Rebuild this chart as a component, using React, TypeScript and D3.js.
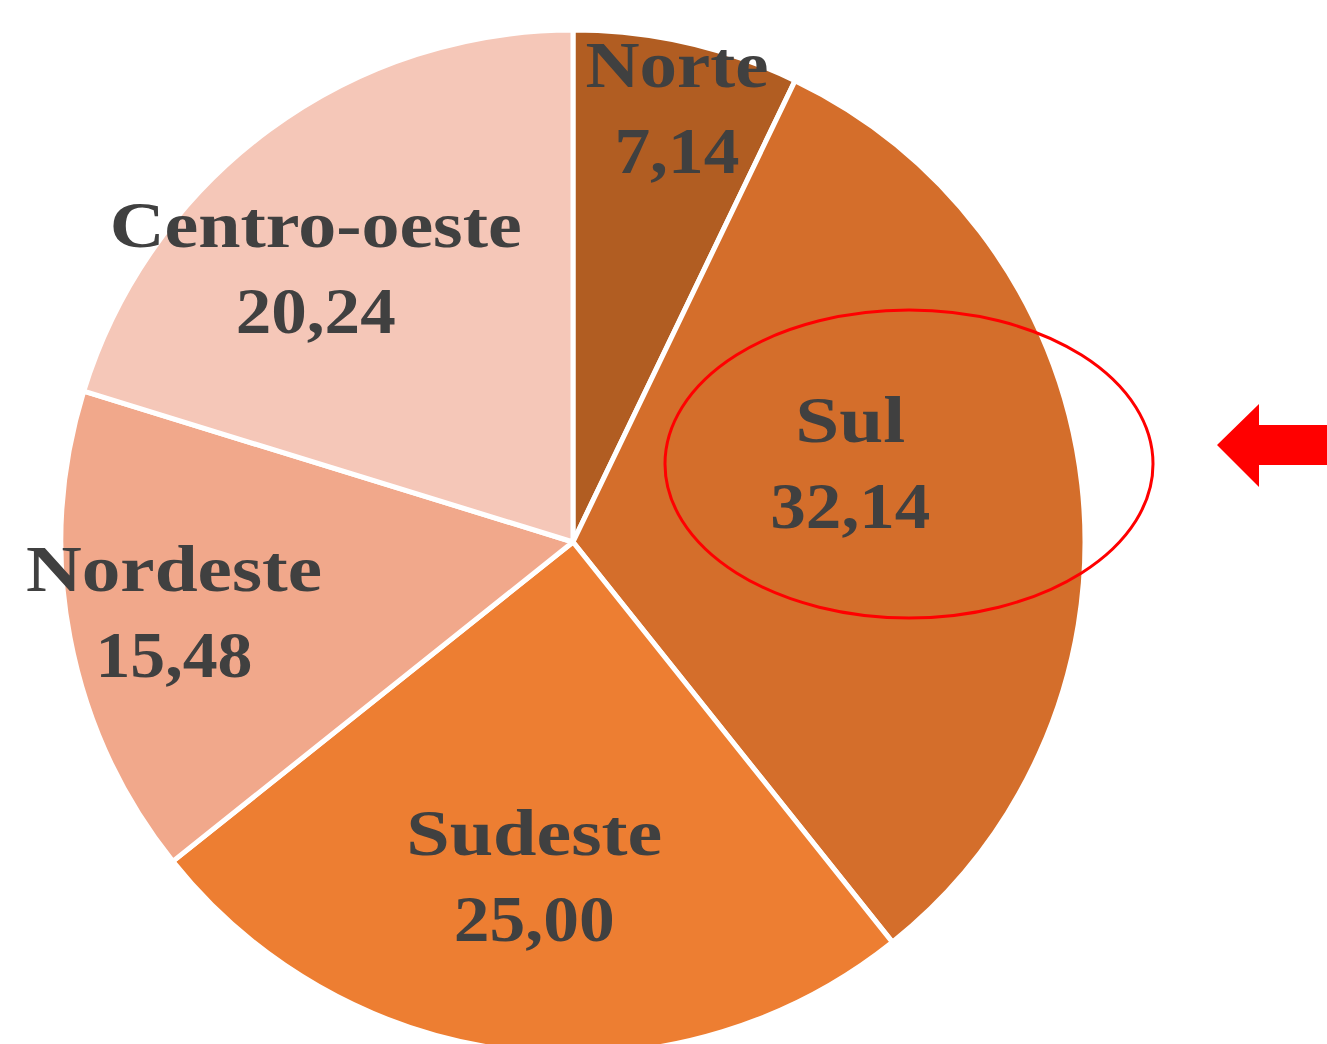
import React from "react";
import * as d3 from "d3";

const regions = ["Norte", "Sul", "Sudeste", "Nordeste", "Centro-oeste"];
const values = [7.14, 32.14, 25.0, 15.48, 20.24];
const valueLabels = ["7,14", "32,14", "25,00", "15,48", "20,24"];
const colors = ["#B15D22", "#D46E2B", "#ED7E32", "#F1A88B", "#F5C7B8"];

// label layout (angle offset in degrees, radius fraction, text widths for name/value)
const labelAngleOffset = [1.3, -5.2, -0.2, -2.3, -9.2];
const labelRadiusFrac = [0.83, 0.553, 0.70, 0.80, 0.703];
const nameWidths = [183, 110, 256, 296, 412];
const valueWidths = [125, 160, 161, 157, 160];

const W = 1327;
const H = 1044;
const cx = 573;
const cy = 542;
const R = 512;

export default function App() {
  const pie = d3.pie<number>().sort(null).value((d) => d);
  const arcs = pie(values);
  const arcGen = d3.arc<d3.PieArcDatum<number>>().innerRadius(0).outerRadius(R);

  return (
    <svg
      width={W}
      height={H}
      style={{ position: "absolute", left: 0, top: 0, background: "#fff" }}
    >
      <g transform={`translate(${cx},${cy})`}>
        {arcs.map((a, i) => (
          <path
            key={i}
            d={arcGen(a) || ""}
            fill={colors[i]}
            stroke="#fff"
            strokeWidth={5}
            strokeLinejoin="round"
          />
        ))}
        {arcs.map((a, i) => {
          const mid = (a.startAngle + a.endAngle) / 2 + (labelAngleOffset[i] * Math.PI) / 180;
          const r = R * labelRadiusFrac[i];
          const x = r * Math.sin(mid);
          const y = -r * Math.cos(mid);
          return (
            <g key={"l" + i} fontFamily="'Liberation Serif', serif" fontWeight="bold" fontSize={66} fill="#404040" textAnchor="middle">
              <text x={x} y={y - 43} textLength={nameWidths[i]} lengthAdjust="spacingAndGlyphs">
                {regions[i]}
              </text>
              <text x={x} y={y + 43} textLength={valueWidths[i]} lengthAdjust="spacingAndGlyphs">
                {valueLabels[i]}
              </text>
            </g>
          );
        })}
      </g>
      <ellipse cx={909} cy={464} rx={244} ry={154} fill="none" stroke="#FF0000" strokeWidth={3} />
      <polygon
        points="1217,445 1259,404 1259,425 1327,425 1327,465 1259,465 1259,487"
        fill="#FF0000"
      />
    </svg>
  );
}
